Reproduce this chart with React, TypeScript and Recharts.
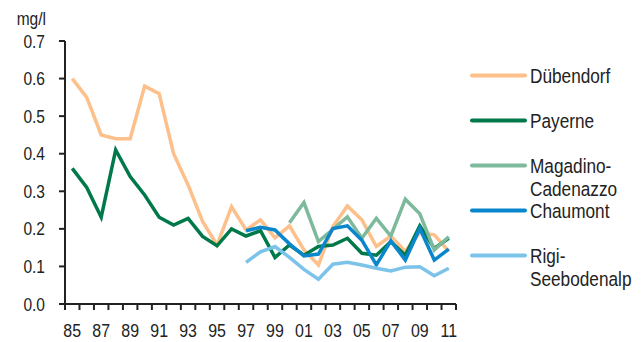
import React from "react";
import { LineChart, Line, XAxis, YAxis, Legend } from "recharts";

const years = ["85","86","87","88","89","90","91","92","93","94","95","96","97","98","99","00","01","02","03","04","05","06","07","08","09","10","11"];
const duebendorf = [0.60,0.55,0.45,0.44,0.44,0.58,0.56,0.40,0.317,0.22,0.157,0.259,0.197,0.224,0.176,0.208,0.144,0.104,0.206,0.261,0.224,0.153,0.181,0.14,0.19,0.184,0.14];
const payerne = [0.361,0.31,0.231,0.41,0.339,0.29,0.231,0.21,0.228,0.18,0.155,0.20,0.181,0.195,0.124,0.157,0.13,0.153,0.157,0.175,0.135,0.13,0.166,0.13,0.208,0.148,0.175];
const magadino: (number | null)[] = [null,null,null,null,null,null,null,null,null,null,null,null,null,null,null,0.216,0.27,0.166,0.199,0.232,0.175,0.228,0.181,0.279,0.24,0.144,0.179];
const chaumont: (number | null)[] = [null,null,null,null,null,null,null,null,null,null,null,null,0.195,0.204,0.197,0.16,0.128,0.133,0.201,0.208,0.17,0.104,0.168,0.117,0.201,0.117,0.146];
const rigi: (number | null)[] = [null,null,null,null,null,null,null,null,null,null,null,null,0.111,0.139,0.153,0.124,0.092,0.066,0.106,0.111,0.104,0.095,0.088,0.098,0.099,0.075,0.095];
const yTicks = [0, 0.1, 0.2, 0.3, 0.4, 0.5, 0.6, 0.7];
const labelYears = ["85","87","89","91","93","95","97","99","01","03","05","07","09","11"];

const series = [
  { key: "duebendorf", name: "Dübendorf", color: "#FDC08A", lines: ["Dübendorf"] },
  { key: "payerne", name: "Payerne", color: "#00794A", lines: ["Payerne"] },
  { key: "magadino", name: "Magadino-Cadenazzo", color: "#7DBA9B", lines: ["Magadino-", "Cadenazzo"] },
  { key: "chaumont", name: "Chaumont", color: "#0A87CC", lines: ["Chaumont"] },
  { key: "rigi", name: "Rigi-Seebodenalp", color: "#7CC3EA", lines: ["Rigi-", "Seebodenalp"] },
];

const data = years.map((y, i) => ({
  year: y,
  duebendorf: duebendorf[i],
  payerne: payerne[i],
  magadino: magadino[i],
  chaumont: chaumont[i],
  rigi: rigi[i],
}));

const FONT = "'Liberation Sans', Arial, sans-serif";
const HALF_BAND = 391 / 27 / 2;

const NarrowText = ({ x, y, anchor = "start", size, dy, children }: any) => (
  <text
    transform={`translate(${x},${y}) scale(0.84,1)`}
    x={0}
    y={0}
    dy={dy}
    textAnchor={anchor}
    fontFamily={FONT}
    fontSize={size}
    fill="#222"
  >
    {children}
  </text>
);

const XTick = (props: any) => {
  const { x, y, payload, index } = props;
  const axisY = y - 19;
  const show = labelYears.includes(payload.value);
  return (
    <g>
      <line x1={x - HALF_BAND} x2={x - HALF_BAND} y1={axisY} y2={axisY + 6} stroke="#222" strokeWidth={2} />
      {index === years.length - 1 && (
        <line x1={x + HALF_BAND} x2={x + HALF_BAND} y1={axisY} y2={axisY + 6} stroke="#222" strokeWidth={2} />
      )}
      {show && (
        <NarrowText x={x} y={y + 13.5} anchor="middle" size={19}>
          {payload.value}
        </NarrowText>
      )}
    </g>
  );
};

const YTick = (props: any) => {
  const { x, y, payload } = props;
  return (
    <NarrowText x={x} y={y + 6.5} anchor="end" size={18.5}>
      {Number(payload.value).toFixed(1)}
    </NarrowText>
  );
};

const LegendContent = () => {
  const rows = [75.5, 120.5, 165.5, 210.5, 255.5];
  return (
    <svg width={184} height={260} style={{ position: "absolute", left: 460, top: 50 }}>
      {series.map((s, i) => {
        const ly = rows[i] - 50;
        return (
          <g key={s.key}>
            <line x1={12} x2={65} y1={ly} y2={ly} stroke={s.color} strokeWidth={4} strokeLinecap="round" />
            {s.lines.map((t: string, j: number) => (
              <NarrowText key={j} x={70} y={ly + 7.5 + j * 23} size={20.5}>
                {t}
              </NarrowText>
            ))}
          </g>
        );
      })}
    </svg>
  );
};

export default function App() {
  return (
    <div style={{ position: "absolute", left: 0, top: 0, width: 644, height: 342, background: "#fff" }}>
      <LineChart width={644} height={342} data={data} margin={{ top: 41, right: 188, bottom: 0, left: 0 }}>
        <XAxis
          xAxisId="top"
          orientation="top"
          dataKey="year"
          scale="band"
          height={0}
          tick={false}
          tickLine={false}
          axisLine={{ stroke: "#777", strokeWidth: 2 }}
        />
        <YAxis
          yAxisId="right"
          orientation="right"
          width={0}
          tick={false}
          tickLine={false}
          domain={[0, 0.7]}
          axisLine={{ stroke: "#777", strokeWidth: 2 }}
        />
        <XAxis
          dataKey="year"
          scale="band"
          interval={0}
          height={38}
          tickSize={6}
          tickMargin={13}
          tickLine={false}
          axisLine={{ stroke: "#222", strokeWidth: 2 }}
          tick={<XTick />}
        />
        <YAxis
          width={65}
          domain={[0, 0.7]}
          ticks={yTicks}
          interval={0}
          tickSize={6}
          tickMargin={14}
          axisLine={{ stroke: "#222", strokeWidth: 2 }}
          tickLine={{ stroke: "#222", strokeWidth: 2 }}
          tick={<YTick />}
          label={{
            content: () => (
              <NarrowText x={46} y={25} anchor="end" size={18.5}>
                mg/l
              </NarrowText>
            ),
          }}
        />
        <Legend content={<LegendContent />} wrapperStyle={{ position: "absolute", left: 0, top: 0, width: 0, height: 0 }} />
        {series.map((s) => (
          <Line
            key={s.key}
            type="linear"
            dataKey={s.key}
            name={s.name}
            stroke={s.color}
            strokeWidth={3.5}
            dot={false}
            activeDot={false}
            connectNulls={false}
            isAnimationActive={false}
          />
        ))}
      </LineChart>
    </div>
  );
}
